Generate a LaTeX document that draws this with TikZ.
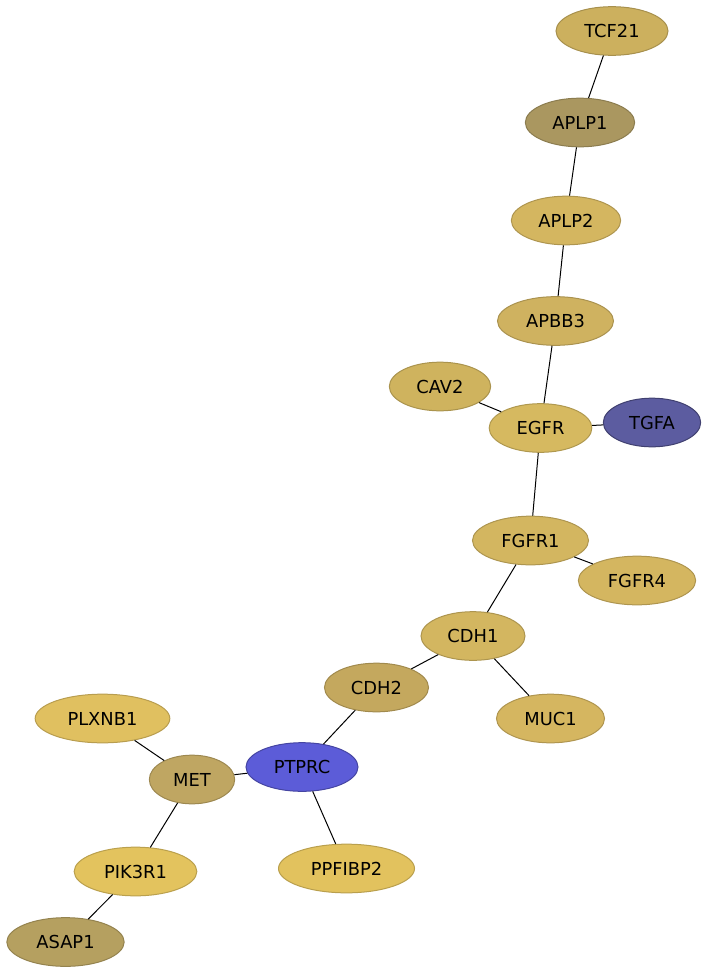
\documentclass[tikz,border=0pt]{standalone}
\usepackage{fontspec}
\setmainfont{DejaVu Sans}
\usetikzlibrary{shapes.geometric}
\definecolor{cTCF}{HTML}{CCB05E}
\definecolor{cAPLPa}{HTML}{AA9760}
\definecolor{cAPLPb}{HTML}{D4B660}
\definecolor{cAPBB}{HTML}{CFB260}
\definecolor{cCAV}{HTML}{CFB35E}
\definecolor{cEGFR}{HTML}{D6B960}
\definecolor{cTGFA}{HTML}{5C5CA0}
\definecolor{cFGFRa}{HTML}{D3B660}
\definecolor{cFGFRb}{HTML}{D4B660}
\definecolor{cCDHa}{HTML}{D3B660}
\definecolor{cCDHb}{HTML}{C4A85E}
\definecolor{cMUC}{HTML}{D5B660}
\definecolor{cPLX}{HTML}{E0C060}
\definecolor{cMET}{HTML}{BFA662}
\definecolor{cPTP}{HTML}{5C5CD8}
\definecolor{cPPF}{HTML}{E2C25E}
\definecolor{cPIK}{HTML}{E3C35E}
\definecolor{cASAP}{HTML}{B5A060}

\begin{document}
\begin{tikzpicture}[x=0.75pt, y=-0.75pt,
  gene/.style={ellipse, fill=#1, draw=#1!82!black, line width=0.75pt,
    inner sep=0pt, minimum height=36.5pt,
    font=\fontsize{13.4}{16}\selectfont},
  link/.style={line width=0.75pt, black}]
\useasboundingbox (0,0) rectangle (708,974);
\node[gene=cTCF, minimum width=84pt] (tcf21) at (612,31) {TCF21};
\node[gene=cAPLPa, minimum width=82pt] (aplp1) at (580,122.5) {APLP1};
\node[gene=cAPLPb, minimum width=82pt] (aplp2) at (566,220.5) {APLP2};
\node[gene=cAPBB, minimum width=87pt] (apbb3) at (555.5,321) {APBB3};
\node[gene=cCAV, minimum width=76pt] (cav2) at (440,386.5) {CAV2};
\node[gene=cEGFR, minimum width=77pt] (egfr) at (540.5,428) {EGFR};
\node[gene=cTGFA, minimum width=73pt, draw=cTGFA!70!black] (tgfa) at (652,422.5) {TGFA};
\node[gene=cFGFRa, minimum width=87pt] (fgfr1) at (530.5,540.5) {FGFR1};
\node[gene=cFGFRb, minimum width=88pt] (fgfr4) at (637,580.5) {FGFR4};
\node[gene=cCDHa, minimum width=78pt] (cdh1) at (473,636) {CDH1};
\node[gene=cCDHb, minimum width=78pt] (cdh2) at (376.5,687.5) {CDH2};
\node[gene=cMUC, minimum width=81pt] (muc1) at (550.5,718.5) {MUC1};
\node[gene=cPLX, minimum width=101pt] (plxnb1) at (102.5,718.5) {PLXNB1};
\node[gene=cMET, minimum width=64pt] (met) at (192,779.5) {MET};
\node[gene=cPTP, minimum width=84pt, draw=cPTP!75!black] (ptprc) at (302,767) {PTPRC};
\node[gene=cPPF, minimum width=102pt] (ppfibp2) at (346.5,868.5) {PPFIBP2};
\node[gene=cPIK, minimum width=92pt] (pik3r1) at (135.5,871.5) {PIK3R1};
\node[gene=cASAP, minimum width=88pt] (asap1) at (65.5,942) {ASAP1};
% links
\draw[link] (tcf21) -- (aplp1);
\draw[link] (aplp1) -- (aplp2);
\draw[link] (aplp2) -- (apbb3);
\draw[link] (apbb3) -- (egfr);
\draw[link] (cav2) -- (egfr);
\draw[link] (egfr) -- (tgfa);
\draw[link] (egfr) -- (fgfr1);
\draw[link] (fgfr1) -- (fgfr4);
\draw[link] (fgfr1) -- (cdh1);
\draw[link] (cdh1) -- (cdh2);
\draw[link] (cdh1) -- (muc1);
\draw[link] (cdh2) -- (ptprc);
\draw[link] (ptprc) -- (met);
\draw[link] (ptprc) -- (ppfibp2);
\draw[link] (met) -- (plxnb1);
\draw[link] (met) -- (pik3r1);
\draw[link] (pik3r1) -- (asap1);
\end{tikzpicture}
\end{document}
